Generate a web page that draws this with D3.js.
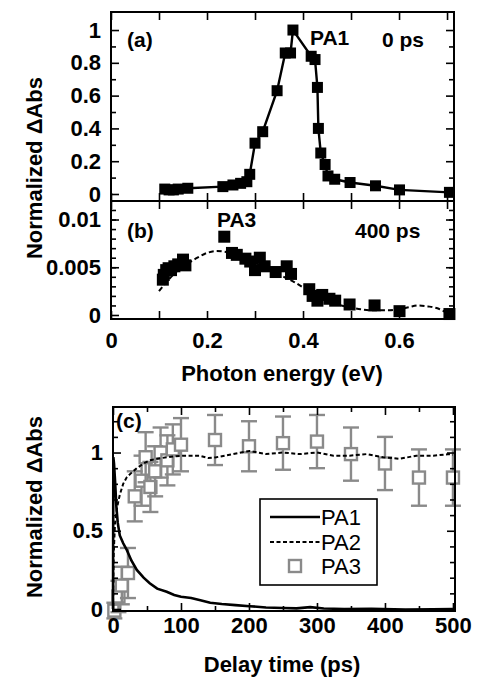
<!DOCTYPE html>
<html>
<head>
<meta charset="utf-8">
<script src="https://cdn.jsdelivr.net/npm/d3@7"></script>
<style>
	body { margin: 0; background: #fff; }
	svg { font-family: 'Liberation Sans', Arial, sans-serif; }
	.tick text { font-size: 22px; font-weight: bold; fill: #000; }
	.tick line { stroke: #000; stroke-width: 1.6; }
	.domain { display: none; }
	.title { font-size: 22px; font-weight: bold; }
	.note { font-size: 21px; font-weight: bold; }
	.legend text { font-size: 22px; }
</style>
</head>
<body>
<svg id="chart" width="478" height="679"></svg>
<script>
// (a) 0 ps spectrum
const energyA = [0.112, 0.121, 0.13, 0.14, 0.16, 0.233, 0.254, 0.27, 0.283, 0.289, 0.3, 0.316, 0.346, 0.363, 0.374, 0.379, 0.417, 0.425, 0.43, 0.432, 0.437, 0.446, 0.452, 0.466, 0.498, 0.551, 0.601, 0.705]
const absA = [0.03, 0.025, 0.025, 0.03, 0.035, 0.045, 0.055, 0.065, 0.075, 0.12, 0.31, 0.38, 0.63, 0.86, 0.86, 1.0, 0.84, 0.82, 0.65, 0.4, 0.25, 0.18, 0.11, 0.09, 0.07, 0.05, 0.025, 0.01]

// (b) 400 ps spectrum
const energyB = [0.108, 0.11, 0.115, 0.12, 0.125, 0.132, 0.14, 0.15, 0.155, 0.236, 0.252, 0.262, 0.28, 0.29, 0.3, 0.31, 0.32, 0.343, 0.366, 0.375, 0.413, 0.42, 0.43, 0.44, 0.455, 0.467, 0.497, 0.549, 0.601, 0.705]
const absB = [0.0037, 0.0042, 0.0047, 0.0049, 0.0047, 0.0051, 0.0053, 0.0058, 0.0052, 0.0082, 0.0065, 0.0063, 0.0059, 0.0056, 0.0047, 0.006, 0.0051, 0.0045, 0.0051, 0.0043, 0.0027, 0.002, 0.0015, 0.0021, 0.0017, 0.0015, 0.0011, 0.001, 0.0004, 0.0001]
const fitEnergyB = [0.1, 0.12, 0.14, 0.16, 0.18, 0.2, 0.22, 0.24, 0.26, 0.28, 0.3, 0.32, 0.34, 0.36, 0.38, 0.4, 0.42, 0.44, 0.46, 0.48, 0.5, 0.52, 0.54, 0.56, 0.58, 0.6, 0.62, 0.64, 0.66, 0.68, 0.7]
const fitAbsB = [0.0025, 0.0037, 0.0047, 0.0054, 0.006, 0.0065, 0.0067, 0.0066, 0.0064, 0.006, 0.0055, 0.005, 0.0045, 0.004, 0.0035, 0.0029, 0.0023, 0.0018, 0.0014, 0.001, 0.0008, 0.0006, 0.0005, 0.0005, 0.0005, 0.0006, 0.0008, 0.001, 0.0009, 0.0007, 0.0002]

// (c) decay dynamics
const delayPA1 = [0, 0.5, 1.5, 3, 5, 7, 10, 15, 20, 27, 35, 45, 54, 65, 79, 90, 100, 115, 130, 143, 160, 180, 201, 225, 250, 270, 290, 310, 340, 380, 430, 470, 500]
const valPA1 = [0, 0.97, 0.93, 0.82, 0.65, 0.55, 0.47, 0.42, 0.38, 0.31, 0.25, 0.2, 0.165, 0.13, 0.11, 0.09, 0.078, 0.07, 0.055, 0.04, 0.032, 0.025, 0.018, 0.01, 0.006, 0.004, 0.012, 0.003, 0, 0.002, -0.004, -0.002, 0]
const delayPA2 = [0, 1, 3, 6, 10, 15, 20, 27, 35, 45, 54, 65, 79, 90, 103, 127, 140, 152, 176, 201, 225, 250, 275, 300, 324, 348, 373, 397, 422, 446, 471, 495, 500]
const valPA2 = [0, 0.35, 0.55, 0.65, 0.73, 0.8, 0.84, 0.87, 0.9, 0.93, 0.95, 0.96, 0.97, 0.975, 0.98, 0.98, 0.965, 0.97, 0.99, 1.01, 0.99, 1.0, 0.99, 1.0, 0.98, 0.98, 0.99, 0.97, 0.96, 0.98, 0.98, 0.99, 0.985]
const delayPA3 = [2, 8, 13, 22, 32, 42, 48, 55, 62, 70, 80, 88, 100, 150, 200, 250, 300, 350, 400, 450, 500]
const valPA3 = [-0.01, 0.08, 0.15, 0.23, 0.72, 0.82, 0.97, 0.78, 0.88, 1.0, 0.95, 1.02, 1.05, 1.08, 1.04, 1.06, 1.07, 0.99, 0.93, 0.84, 0.84]
const errPA3 = [0.05, 0.1, 0.12, 0.16, 0.16, 0.16, 0.16, 0.16, 0.16, 0.16, 0.16, 0.16, 0.17, 0.16, 0.16, 0.17, 0.17, 0.17, 0.17, 0.18, 0.18]

const svg = d3.select('#chart')
const gray = '#8a8a8a'

// inward ticks on all four sides, labels only on the chosen ones
function frame(g, x, y, opt) {
	const [x0, x1] = x.range()
	const [y0, y1] = y.range()

	const sides = [
		{ axis: d3.axisBottom, scale: x, at: `translate(0,${y0})`, major: opt.xMajor, minor: opt.xMinor, fmt: opt.xFmt, pad: opt.xPad },
		{ axis: d3.axisTop, scale: x, at: `translate(0,${y1})`, major: opt.xMajor, minor: opt.xMinor },
		{ axis: d3.axisLeft, scale: y, at: `translate(${x0},0)`, major: opt.yMajor, minor: opt.yMinor, fmt: opt.yFmt, pad: 10 },
		{ axis: d3.axisRight, scale: y, at: `translate(${x1},0)`, major: opt.yMajor, minor: opt.yMinor }
	]

	sides.forEach(s => {
		g.append('g')
			.attr('transform', s.at)
			.call(s.axis(s.scale).tickValues(s.minor).tickSize(-5).tickFormat(''))
		g.append('g')
			.attr('transform', s.at)
			.call(
				s.axis(s.scale)
					.tickValues(s.major)
					.tickSize(-8)
					.tickPadding(s.pad || 0)
					.tickFormat(s.fmt || (() => ''))
			)
	})

	g.append('rect')
		.attr('x', x0)
		.attr('y', y1)
		.attr('width', x1 - x0)
		.attr('height', y0 - y1)
		.attr('fill', 'none')
		.attr('stroke', '#000')
		.attr('stroke-width', 2)
}

function squares(g, xs, ys, x, y, size) {
	g.append('g')
		.selectAll('rect')
		.data(xs)
		.join('rect')
		.attr('x', d => x(d) - size / 2)
		.attr('y', (d, i) => y(ys[i]) - size / 2)
		.attr('width', size)
		.attr('height', size)
		.attr('fill', '#000')
}

function note(text, px, py, cls) {
	svg.append('text')
		.attr('class', cls || 'note')
		.attr('x', px)
		.attr('y', py)
		.text(text)
}

const fmtNum = d => (d === 0 ? '0' : String(d))

// ----- (a)
const xE = d3.scaleLinear().domain([0, 0.7145]).range([111, 454])
const yA = d3.scaleLinear().domain([-0.0427, 1.11]).range([201, 12])
const gA = svg.append('g')

const lineA = d3.line().x((d, i) => xE(d)).y((d, i) => yA(absA[i]))
gA.append('path')
	.attr('d', lineA(energyA))
	.attr('fill', 'none')
	.attr('stroke', '#000')
	.attr('stroke-width', 2.4)
squares(gA, energyA, absA, xE, yA, 11)

frame(gA, xE, yA, {
	xMajor: d3.range(0, 0.71, 0.1),
	xMinor: [],
	yMajor: [0, 0.2, 0.4, 0.6, 0.8, 1],
	yMinor: [0.1, 0.3, 0.5, 0.7, 0.9],
	yFmt: fmtNum
})

note('(a)', 127, 47)
note('PA1', 310, 45)
note('0 ps', 382, 47)

// ----- (b)
const yB = d3.scaleLinear().domain([-0.00042, 0.01194]).range([319, 201])
const gB = svg.append('g')

const fitB = d3.line().curve(d3.curveMonotoneX).x(d => xE(d)).y((d, i) => yB(fitAbsB[i]))
gB.append('path')
	.attr('d', fitB(fitEnergyB))
	.attr('fill', 'none')
	.attr('stroke', '#000')
	.attr('stroke-width', 2)
	.attr('stroke-dasharray', '5,3')
squares(gB, energyB, absB, xE, yB, 12)

frame(gB, xE, yB, {
	xMajor: d3.range(0, 0.71, 0.1),
	xMinor: [],
	xFmt: d => ([0, 0.2, 0.4, 0.6].some(v => Math.abs(v - d) < 1e-6) ? fmtNum(+d.toFixed(1)) : ''),
	xPad: 13,
	yMajor: [0, 0.005, 0.01],
	yMinor: d3.range(0.001, 0.0115, 0.001),
	yFmt: fmtNum
})

note('(b)', 127, 238)
note('PA3', 217, 227)
note('400 ps', 355, 238)

svg.append('text')
	.attr('class', 'title')
	.attr('x', 282)
	.attr('y', 381)
	.attr('text-anchor', 'middle')
	.text('Photon energy (eV)')

svg.append('text')
	.attr('class', 'title')
	.attr('transform', 'translate(42,168) rotate(-90)')
	.attr('text-anchor', 'middle')
	.text('Normalized ΔAbs')

// ----- (c)
const xT = d3.scaleLinear().domain([0, 503]).range([113, 455])
const yC = d3.scaleLinear().domain([-0.0128, 1.291]).range([611, 407])
const gC = svg.append('g')

// PA3 error bars and open squares
const bars = gC.append('g')
	.attr('stroke', gray)
	.attr('stroke-width', 2.4)
	.selectAll('g')
	.data(delayPA3)
	.join('g')
bars.append('line')
	.attr('x1', d => xT(d))
	.attr('x2', d => xT(d))
	.attr('y1', (d, i) => yC(valPA3[i] - errPA3[i]))
	.attr('y2', (d, i) => yC(valPA3[i] + errPA3[i]))
bars.selectAll('.cap')
	.data((d, i) => [[d, valPA3[i] - errPA3[i]], [d, valPA3[i] + errPA3[i]]])
	.join('line')
	.attr('x1', d => xT(d[0]) - 8)
	.attr('x2', d => xT(d[0]) + 8)
	.attr('y1', d => yC(d[1]))
	.attr('y2', d => yC(d[1]))
bars.append('rect')
	.attr('x', d => xT(d) - 6)
	.attr('y', (d, i) => yC(valPA3[i]) - 6)
	.attr('width', 12)
	.attr('height', 12)
	.attr('fill', '#fff')

const linePA2 = d3.line().x(d => xT(d)).y((d, i) => yC(valPA2[i]))
gC.append('path')
	.attr('d', linePA2(delayPA2))
	.attr('fill', 'none')
	.attr('stroke', '#000')
	.attr('stroke-width', 2)
	.attr('stroke-dasharray', '4,2.5')

const linePA1 = d3.line().x(d => xT(d)).y((d, i) => yC(valPA1[i]))
gC.append('path')
	.attr('d', linePA1(delayPA1))
	.attr('fill', 'none')
	.attr('stroke', '#000')
	.attr('stroke-width', 2.6)

frame(gC, xT, yC, {
	xMajor: [0, 100, 200, 300, 400, 500],
	xMinor: [50, 150, 250, 350, 450],
	xFmt: fmtNum,
	xPad: 6,
	yMajor: [0, 0.5, 1],
	yMinor: [0.1, 0.2, 0.3, 0.4, 0.6, 0.7, 0.8, 0.9, 1.1, 1.2],
	yFmt: fmtNum
})

note('(c)', 116, 428)

svg.append('text')
	.attr('class', 'title')
	.attr('x', 282)
	.attr('y', 672)
	.attr('text-anchor', 'middle')
	.text('Delay time (ps)')

svg.append('text')
	.attr('class', 'title')
	.attr('transform', 'translate(42,507) rotate(-90)')
	.attr('text-anchor', 'middle')
	.text('Normalized ΔAbs')

// legend
const legend = svg.append('g').attr('class', 'legend')
legend.append('rect')
	.attr('x', 260)
	.attr('y', 499)
	.attr('width', 117)
	.attr('height', 86)
	.attr('fill', '#fff')
	.attr('stroke', '#000')
	.attr('stroke-width', 1.6)
legend.append('line')
	.attr('x1', 270).attr('x2', 320).attr('y1', 517).attr('y2', 517)
	.attr('stroke', '#000').attr('stroke-width', 2.4)
legend.append('line')
	.attr('x1', 270).attr('x2', 320).attr('y1', 542).attr('y2', 542)
	.attr('stroke', '#000').attr('stroke-width', 2).attr('stroke-dasharray', '4,2.5')
legend.append('rect')
	.attr('x', 289).attr('y', 560).attr('width', 12).attr('height', 12)
	.attr('fill', '#fff').attr('stroke', gray).attr('stroke-width', 2.4)
legend.append('text').attr('x', 321).attr('y', 525).text('PA1')
legend.append('text').attr('x', 321).attr('y', 550).text('PA2')
legend.append('text').attr('x', 321).attr('y', 574).text('PA3')
</script>
</body>
</html>
